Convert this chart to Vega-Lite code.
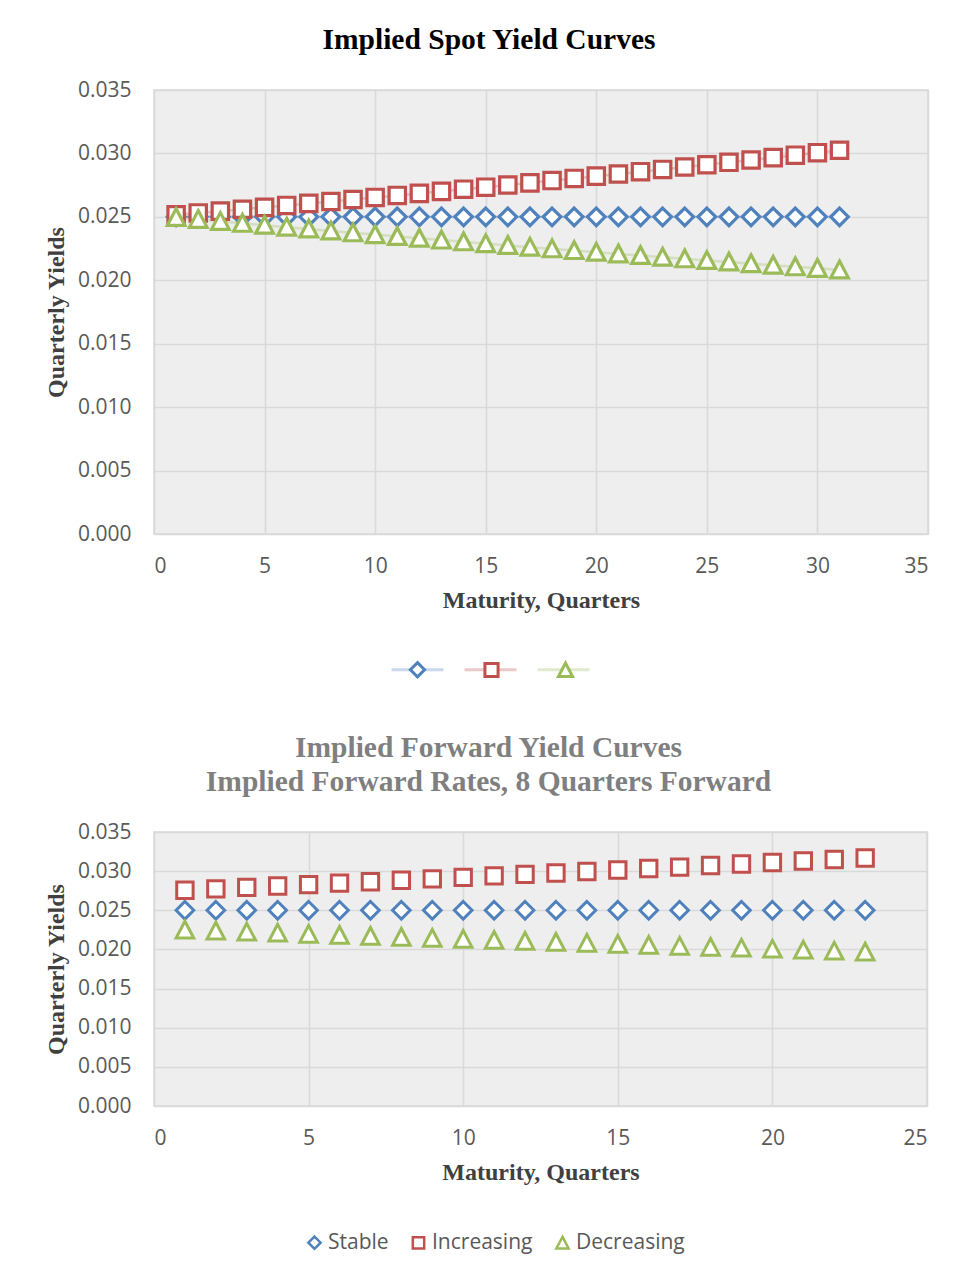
{
  "$schema": "https://vega.github.io/schema/vega-lite/v6.json",
  "background": "white",
  "padding": {"left": 43, "top": 23, "right": 31, "bottom": 20},
  "bounds": "flush",
  "spacing": 298,
  "config": {
    "view": {"fill": "#eeeeee", "stroke": "#d9d9d9", "strokeWidth": 1.5},
    "axis": {
      "domain": false,
      "ticks": false,
      "gridColor": "#d9d9d9",
      "gridWidth": 1.6,
      "labelFont": "Open Sans",
      "labelFontSize": 21,
      "labelColor": "#595959",
      "titleFont": "Liberation Serif",
      "titleFontSize": 24,
      "titleFontWeight": "bold",
      "titleColor": "#404040"
    },
    "axisX": {"labelPadding": 21, "titlePadding": 12},
    "axisY": {"labelPadding": 23, "titlePadding": 9},
    "title": {"font": "Liberation Serif", "fontSize": 29.5, "fontWeight": "bold", "anchor": "middle"},
    "legend": {"labelFont": "Open Sans", "labelFontSize": 21, "labelColor": "#595959"}
  },
  "datasets": {
    "spot": [
      {"q": 1, "Stable": 0.025, "Increasing": 0.02516, "Decreasing": 0.02495},
      {"q": 2, "Stable": 0.025, "Increasing": 0.02531, "Decreasing": 0.0248},
      {"q": 3, "Stable": 0.025, "Increasing": 0.02545, "Decreasing": 0.02464},
      {"q": 4, "Stable": 0.025, "Increasing": 0.0256, "Decreasing": 0.02449},
      {"q": 5, "Stable": 0.025, "Increasing": 0.02575, "Decreasing": 0.02434},
      {"q": 6, "Stable": 0.025, "Increasing": 0.0259, "Decreasing": 0.02419},
      {"q": 7, "Stable": 0.025, "Increasing": 0.02606, "Decreasing": 0.02404},
      {"q": 8, "Stable": 0.025, "Increasing": 0.02621, "Decreasing": 0.02389},
      {"q": 9, "Stable": 0.025, "Increasing": 0.02637, "Decreasing": 0.02374},
      {"q": 10, "Stable": 0.025, "Increasing": 0.02653, "Decreasing": 0.0236},
      {"q": 11, "Stable": 0.025, "Increasing": 0.02669, "Decreasing": 0.02345},
      {"q": 12, "Stable": 0.025, "Increasing": 0.02685, "Decreasing": 0.02331},
      {"q": 13, "Stable": 0.025, "Increasing": 0.02701, "Decreasing": 0.02317},
      {"q": 14, "Stable": 0.025, "Increasing": 0.02718, "Decreasing": 0.02303},
      {"q": 15, "Stable": 0.025, "Increasing": 0.02734, "Decreasing": 0.02289},
      {"q": 16, "Stable": 0.025, "Increasing": 0.02751, "Decreasing": 0.02275},
      {"q": 17, "Stable": 0.025, "Increasing": 0.02768, "Decreasing": 0.02261},
      {"q": 18, "Stable": 0.025, "Increasing": 0.02786, "Decreasing": 0.02248},
      {"q": 19, "Stable": 0.025, "Increasing": 0.02803, "Decreasing": 0.02234},
      {"q": 20, "Stable": 0.025, "Increasing": 0.02821, "Decreasing": 0.02221},
      {"q": 21, "Stable": 0.025, "Increasing": 0.02838, "Decreasing": 0.02208},
      {"q": 22, "Stable": 0.025, "Increasing": 0.02856, "Decreasing": 0.02195},
      {"q": 23, "Stable": 0.025, "Increasing": 0.02874, "Decreasing": 0.02182},
      {"q": 24, "Stable": 0.025, "Increasing": 0.02893, "Decreasing": 0.02169},
      {"q": 25, "Stable": 0.025, "Increasing": 0.02911, "Decreasing": 0.02156},
      {"q": 26, "Stable": 0.025, "Increasing": 0.0293, "Decreasing": 0.02144},
      {"q": 27, "Stable": 0.025, "Increasing": 0.02948, "Decreasing": 0.02131},
      {"q": 28, "Stable": 0.025, "Increasing": 0.02967, "Decreasing": 0.02119},
      {"q": 29, "Stable": 0.025, "Increasing": 0.02986, "Decreasing": 0.02106},
      {"q": 30, "Stable": 0.025, "Increasing": 0.03006, "Decreasing": 0.02094},
      {"q": 31, "Stable": 0.025, "Increasing": 0.03025, "Decreasing": 0.02082}
    ],
    "fwd": [
      {"q": 1, "Stable": 0.025, "Increasing": 0.02756, "Decreasing": 0.02247},
      {"q": 2, "Stable": 0.025, "Increasing": 0.02774, "Decreasing": 0.02234},
      {"q": 3, "Stable": 0.025, "Increasing": 0.02792, "Decreasing": 0.02221},
      {"q": 4, "Stable": 0.025, "Increasing": 0.0281, "Decreasing": 0.02208},
      {"q": 5, "Stable": 0.025, "Increasing": 0.02828, "Decreasing": 0.02194},
      {"q": 6, "Stable": 0.025, "Increasing": 0.02847, "Decreasing": 0.02181},
      {"q": 7, "Stable": 0.025, "Increasing": 0.02865, "Decreasing": 0.02168},
      {"q": 8, "Stable": 0.025, "Increasing": 0.02883, "Decreasing": 0.02155},
      {"q": 9, "Stable": 0.025, "Increasing": 0.02902, "Decreasing": 0.02143},
      {"q": 10, "Stable": 0.025, "Increasing": 0.02921, "Decreasing": 0.0213},
      {"q": 11, "Stable": 0.025, "Increasing": 0.02939, "Decreasing": 0.02117},
      {"q": 12, "Stable": 0.025, "Increasing": 0.02958, "Decreasing": 0.02104},
      {"q": 13, "Stable": 0.025, "Increasing": 0.02977, "Decreasing": 0.02091},
      {"q": 14, "Stable": 0.025, "Increasing": 0.02995, "Decreasing": 0.02079},
      {"q": 15, "Stable": 0.025, "Increasing": 0.03014, "Decreasing": 0.02066},
      {"q": 16, "Stable": 0.025, "Increasing": 0.03033, "Decreasing": 0.02053},
      {"q": 17, "Stable": 0.025, "Increasing": 0.03052, "Decreasing": 0.02041},
      {"q": 18, "Stable": 0.025, "Increasing": 0.03072, "Decreasing": 0.02028},
      {"q": 19, "Stable": 0.025, "Increasing": 0.03091, "Decreasing": 0.02016},
      {"q": 20, "Stable": 0.025, "Increasing": 0.0311, "Decreasing": 0.02003},
      {"q": 21, "Stable": 0.025, "Increasing": 0.03129, "Decreasing": 0.01991},
      {"q": 22, "Stable": 0.025, "Increasing": 0.03149, "Decreasing": 0.01978},
      {"q": 23, "Stable": 0.025, "Increasing": 0.03168, "Decreasing": 0.01966}
    ]
  },
  "resolve": {
    "scale": {"color": "independent", "shape": "independent", "stroke": "independent"},
    "legend": {"color": "independent", "shape": "independent", "stroke": "independent"}
  },
  "vconcat": [
    {
      "width": 774,
      "height": 444,
      "title": {"text": "Implied Spot Yield Curves", "color": "#000000", "dx": -52, "offset": 24},
      "data": {"name": "spot"},
      "transform": [{"fold": ["Stable", "Increasing", "Decreasing"], "as": ["series", "yield"]}],
      "encoding": {
        "x": {"field": "q", "type": "quantitative", "scale": {"domain": [0, 35], "nice": false},
              "axis": {"title": "Maturity, Quarters", "values": [0, 5, 10, 15, 20, 25, 30, 35]}},
        "y": {"field": "yield", "type": "quantitative", "scale": {"domain": [0, 0.035], "nice": false},
              "axis": {"title": "Quarterly Yields", "format": ".3f", "values": [0, 0.005, 0.01, 0.015, 0.02, 0.025, 0.03, 0.035]}}
      },
      "layer": [
        {"mark": {"type": "line", "strokeWidth": 2.5, "opacity": 0.3},
         "encoding": {"stroke": {"field": "series", "type": "nominal",
                  "scale": {"domain": ["Increasing", "Stable", "Decreasing"], "range": ["#C0504D", "#4F81BD", "#9BBB59"]},
                  "legend": {"title": null, "values": ["Stable", "Increasing", "Decreasing"], "orient": "none", "legendX": 236, "legendY": 552, "direction": "horizontal", "labelExpr": "''", "labelOffset": 0, "columnPadding": 8,
                             "symbolType": "stroke", "symbolStrokeWidth": 3, "symbolSize": 2700, "symbolOpacity": 0.3}}}},
        {"mark": {"type": "point", "filled": false, "fill": "white", "strokeWidth": 3.2, "size": 310, "opacity": 1},
         "encoding": {
           "color": {"field": "series", "type": "nominal",
                  "scale": {"domain": ["Stable", "Increasing", "Decreasing"], "range": ["#4F81BD", "#C0504D", "#9BBB59"]},
                  "legend": {"title": null, "orient": "none", "legendX": 253, "legendY": 569, "direction": "horizontal", "labelExpr": "''", "columnPadding": 46,
                             "symbolFillColor": "white", "symbolStrokeWidth": 3, "symbolSize": 200, "symbolOpacity": 1}},
           "shape": {"field": "series", "type": "nominal",
                                "scale": {"domain": ["Stable", "Increasing", "Decreasing"], "range": ["M0,-1L1,0L0,1L-1,0Z", "M-0.93,-0.93H0.93V0.93H-0.93Z", "M0,-1L1,0.9L-1,0.9Z"]},
                                "legend": {"title": null, "orient": "none", "legendX": 253, "legendY": 569, "direction": "horizontal", "labelExpr": "''", "columnPadding": 46,
                                           "symbolFillColor": "white", "symbolStrokeWidth": 3, "symbolSize": 200, "symbolOpacity": 1}}}}
      ]
    },
    {
      "width": 773,
      "height": 274,
      "title": {"text": ["Implied Forward Yield Curves", "Implied Forward Rates, 8 Quarters Forward"], "color": "#7f7f7f", "lineHeight": 34, "dx": -52, "offset": 24},
      "data": {"name": "fwd"},
      "transform": [{"fold": ["Stable", "Increasing", "Decreasing"], "as": ["series", "yield"]}],
      "mark": {"type": "point", "filled": false, "fill": "white", "strokeWidth": 3, "size": 310, "opacity": 1},
      "encoding": {
        "x": {"field": "q", "type": "quantitative", "scale": {"domain": [0, 25], "nice": false},
              "axis": {"title": "Maturity, Quarters", "values": [0, 5, 10, 15, 20, 25]}},
        "y": {"field": "yield", "type": "quantitative", "scale": {"domain": [0, 0.035], "nice": false},
              "axis": {"title": "Quarterly  Yields", "format": ".3f", "values": [0, 0.005, 0.01, 0.015, 0.02, 0.025, 0.03, 0.035]}},
        "color": {"field": "series", "type": "nominal",
                  "scale": {"domain": ["Stable", "Increasing", "Decreasing"], "range": ["#4F81BD", "#C0504D", "#9BBB59"]},
                  "legend": {"title": null, "orient": "none", "legendX": 150, "legendY": 400, "direction": "horizontal",
                             "symbolFillColor": "white", "symbolStrokeWidth": 2.5, "symbolSize": 150, "labelOffset": 3, "columnPadding": 18}},
        "shape": {"field": "series", "type": "nominal",
                  "scale": {"domain": ["Stable", "Increasing", "Decreasing"], "range": ["M0,-1L1,0L0,1L-1,0Z", "M-0.93,-0.93H0.93V0.93H-0.93Z", "M0,-1L1,0.9L-1,0.9Z"]},
                  "legend": {"title": null, "orient": "none", "legendX": 150, "legendY": 400, "direction": "horizontal",
                             "symbolFillColor": "white", "symbolStrokeWidth": 2.5, "symbolSize": 150, "labelOffset": 3, "columnPadding": 18}}
      }
    }
  ]
}
